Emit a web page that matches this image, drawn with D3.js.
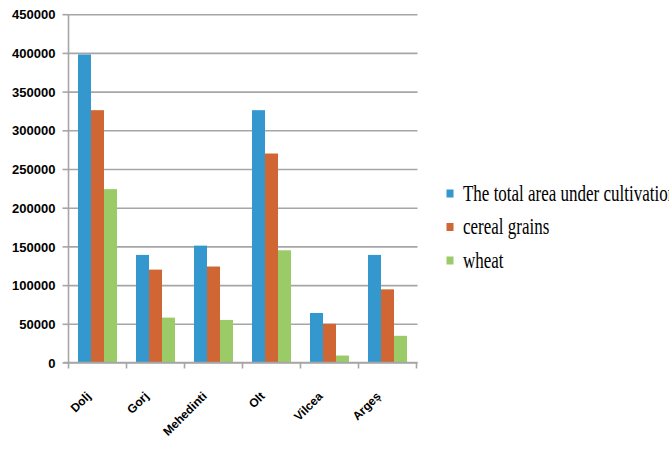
<!DOCTYPE html>
<html>
<head>
<meta charset="utf-8">
<script src="https://cdn.jsdelivr.net/npm/d3@7"></script>
<style>
  html, body { margin: 0; padding: 0; background: #fff; }
  svg { display: block; }
</style>
</head>
<body>
<svg id="chart" width="669" height="453"></svg>
<script>
// Counties and the three cultivated-area series (hectares)
const counties = ["Dolj", "Gorj", "Mehedinti", "Olt", "Vilcea", "Argeș"];
const seriesNames = ["The total area under cultivation", "cereal grains", "wheat"];
const totalArea = [398000, 139000, 151000, 326000, 64000, 139000];
const cerealGrains = [326000, 120000, 124000, 270000, 50000, 94500];
const wheat = [224000, 58000, 55000, 145000, 9000, 34500];
const yTicks = [0, 50000, 100000, 150000, 200000, 250000, 300000, 350000, 400000, 450000];
const colors = ["#3498cf", "#cf6634", "#9bcb66"];

const seriesValues = [totalArea, cerealGrains, wheat];
const rows = counties.map((c, i) => ({
  county: c,
  values: seriesNames.map((s, k) => ({ series: s, value: seriesValues[k][i] }))
}));

const svg = d3.select("#chart");
const plotLeft = 68.5, plotRight = 416.5, plotTop = 14.2, plotBottom = 362.5;

const y = d3.scaleLinear().domain([0, 450000]).range([plotBottom, plotTop]);
const x0 = d3.scaleBand().domain(counties).range([plotLeft, plotRight]).padding(0);
const x1 = d3.scaleBand().domain(seriesNames).range([0, x0.bandwidth()])
  .paddingInner(0).paddingOuter(0.73);

// Horizontal gridlines with small ticks on the left
const yAxis = d3.axisLeft(y).tickValues(yTicks).tickSize(-(plotRight - plotLeft + 1)).tickFormat(d => d);
const gy = svg.append("g").attr("transform", `translate(${plotLeft},0)`).call(yAxis);
gy.select(".domain").remove();
gy.selectAll(".tick line").attr("stroke", "#a6a6a6").attr("stroke-width", 1.6);
gy.selectAll(".tick").append("line")
  .attr("x1", -6).attr("x2", 0).attr("stroke", "#a6a6a6").attr("stroke-width", 1.6);
gy.selectAll(".tick text")
  .attr("x", -13)
  .attr("dy", "0.36em")
  .attr("fill", "#000")
  .style("font-family", "'Liberation Sans', Arial, sans-serif")
  .style("font-weight", "bold")
  .style("font-size", "13px");

// Vertical axis line
svg.append("line")
  .attr("x1", plotLeft).attr("x2", plotLeft).attr("y1", plotTop).attr("y2", plotBottom)
  .attr("stroke", "#a6a6a6").attr("stroke-width", 1.6);

// Bars
const groups = svg.append("g").selectAll("g").data(rows).join("g")
  .attr("transform", d => `translate(${x0(d.county)},0)`);
groups.selectAll("rect").data(d => d.values).join("rect")
  .attr("x", d => x1(d.series))
  .attr("width", x1.bandwidth())
  .attr("y", d => y(d.value))
  .attr("height", d => y(0) - y(d.value))
  .attr("fill", (d, i) => colors[i]);

// Category axis with boundary ticks
svg.append("line")
  .attr("x1", plotLeft - 5).attr("x2", plotRight + 1).attr("y1", plotBottom).attr("y2", plotBottom)
  .attr("stroke", "#a6a6a6").attr("stroke-width", 1.6);
const boundaries = counties.map(c => x0(c)).concat([plotRight]);
svg.append("g").selectAll("line").data(boundaries).join("line")
  .attr("x1", d => d).attr("x2", d => d)
  .attr("y1", plotBottom).attr("y2", plotBottom + 6)
  .attr("stroke", "#a6a6a6").attr("stroke-width", 1.6);

// Rotated county labels
svg.append("g").selectAll("text").data(counties).join("text")
  .attr("transform", d => `translate(${x0(d) + x0.bandwidth() / 2 - 6},397) rotate(-45)`)
  .attr("text-anchor", "end")
  .style("font-family", "'Liberation Sans', Arial, sans-serif")
  .style("font-weight", "bold")
  .style("font-size", "12px")
  .text(d => d);

// Legend
const legend = svg.append("g").selectAll("g").data(seriesNames).join("g")
  .attr("transform", (d, i) => `translate(446.5,${200.5 + i * 33.5})`);
legend.append("rect")
  .attr("x", 0).attr("y", -11).attr("width", 7).attr("height", 8)
  .attr("fill", (d, i) => colors[i]);
legend.append("text")
  .attr("x", 16.5)
  .attr("transform", "scale(1,1.32)")
  .style("font-family", "'Liberation Serif', 'Times New Roman', serif")
  .style("font-size", "17px")
  .attr("fill", "#000")
  .text(d => d);
</script>
</body>
</html>
